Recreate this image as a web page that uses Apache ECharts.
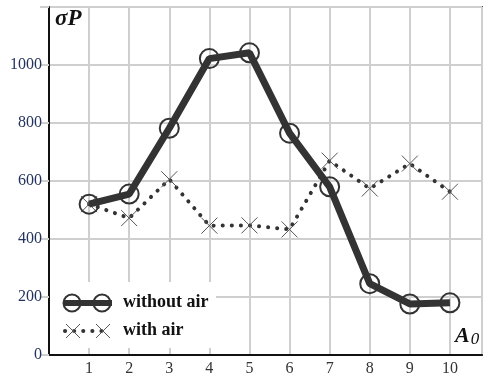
<!DOCTYPE html>
<html>
<head>
<meta charset="utf-8">
<script src="https://cdn.jsdelivr.net/npm/echarts@6/dist/echarts.min.js"></script>
<style>
  html, body { margin: 0; padding: 0; background: #fff; }
  #chart { width: 485px; height: 378px; }
</style>
</head>
<body>
<div id="chart"></div>
<script>
// A0 values along the x axis
const xValues = [1, 2, 3, 4, 5, 6, 7, 8, 9, 10];
// sigma P
const withoutAir = [520, 555, 782, 1022, 1042, 765, 580, 246, 176, 180];
const withAir = [520, 472, 606, 446, 447, 433, 670, 574, 660, 563];
const yTicks = [0, 200, 400, 600, 800, 1000];

const serif = '"Liberation Serif", "DejaVu Serif", serif';
const crossPath = 'path://M0,0L10,10M10,0L0,10';

const chart = echarts.init(document.getElementById('chart'));

const pairs = (ys) => xValues.map((x, i) => [x, ys[i]]);

// legend pieces, drawn by hand (two markers per sample like the original)
const Z = 100;
const legendItems = [
  { type: 'rect', shape: { x: 0, y: 0, width: 166, height: 66 }, style: { fill: '#fff' } },
  { type: 'line', shape: { x1: 14, y1: 21, x2: 62, y2: 21 }, style: { stroke: '#333', lineWidth: 6 } },
  { type: 'circle', shape: { cx: 22, cy: 21, r: 8.5 }, style: { fill: 'transparent', stroke: '#333', lineWidth: 2 } },
  { type: 'circle', shape: { cx: 52, cy: 21, r: 8.5 }, style: { fill: 'transparent', stroke: '#333', lineWidth: 2 } },
  { type: 'line', shape: { x1: 15, y1: 49, x2: 60, y2: 49 }, style: { stroke: '#333', lineWidth: 4, lineDash: [0.1, 9], lineCap: 'round' } },
  { type: 'polyline', shape: { points: [[16, 42], [30, 56]] }, style: { stroke: '#555', lineWidth: 1 } },
  { type: 'polyline', shape: { points: [[30, 42], [16, 56]] }, style: { stroke: '#555', lineWidth: 1 } },
  { type: 'polyline', shape: { points: [[46, 42], [60, 56]] }, style: { stroke: '#555', lineWidth: 1 } },
  { type: 'polyline', shape: { points: [[60, 42], [46, 56]] }, style: { stroke: '#555', lineWidth: 1 } },
  { type: 'text', x: 73, y: 11, style: { text: 'without air', font: 'bold 18px ' + serif, fill: '#111' } },
  { type: 'text', x: 73, y: 39, style: { text: 'with air', font: 'bold 18px ' + serif, fill: '#111' } },
].map((el, i) => Object.assign({ z: Z + i }, el));

const option = {
  animation: false,
  backgroundColor: '#fff',
  grid: {
    left: 49, top: 7, right: -2, bottom: 23,
    show: true, borderColor: '#555', borderWidth: 2,
  },
  xAxis: {
    type: 'value',
    min: 0,
    max: 10.8,
    interval: 1,
    axisLine: { show: true, onZero: false, lineStyle: { color: '#111', width: 2 } },
    axisTick: { show: false },
    splitLine: { show: true, lineStyle: { color: '#cfcfcf', width: 2 } },
    axisLabel: {
      fontFamily: serif, fontSize: 16, color: '#333', margin: 6,
      formatter: (v) => (xValues.includes(v) ? String(v) : ''),
    },
  },
  yAxis: {
    type: 'value',
    min: 0,
    max: 1200,
    interval: 200,
    axisLine: { show: true, lineStyle: { color: '#111', width: 2 } },
    axisTick: { show: true, length: 9, lineStyle: { color: '#cfcfcf', width: 2 } },
    splitLine: { show: true, lineStyle: { color: '#cfcfcf', width: 2 } },
    axisLabel: {
      fontFamily: serif, fontSize: 16, color: '#23335e', margin: 7,
      formatter: (v) => (yTicks.includes(v) ? String(v) : ''),
    },
  },
  series: [
    {
      name: 'with air',
      type: 'line',
      data: pairs(withAir),
      symbol: crossPath,
      symbolSize: 16,
      itemStyle: { color: 'transparent', borderColor: '#555', borderWidth: 1 },
      lineStyle: { color: '#333', width: 4, type: [0.1, 9], cap: 'round' },
      z: 2,
    },
    {
      name: 'without air',
      type: 'line',
      data: pairs(withoutAir),
      symbol: 'circle',
      symbolSize: 19,
      itemStyle: { color: 'transparent', borderColor: '#333', borderWidth: 2 },
      lineStyle: { color: '#333', width: 7 },
      z: 3,
    },
  ],
  graphic: [
    {
      type: 'text', left: 55, top: 8, z: Z,
      style: { text: 'σP', font: 'bold italic 23px ' + serif, fill: '#111' },
    },
    {
      type: 'text', left: 455, top: 325, z: Z,
      style: {
        text: '{a|A}{s|0}',
        rich: {
          a: { font: 'bold italic 22px ' + serif, fill: '#111' },
          s: { font: 'italic 17px ' + serif, fill: '#111', padding: [8, 0, 0, 1] },
        },
      },
    },
    { type: 'group', left: 50, top: 282, z: Z, children: legendItems },
  ],
};

chart.setOption(option);
</script>
</body>
</html>
